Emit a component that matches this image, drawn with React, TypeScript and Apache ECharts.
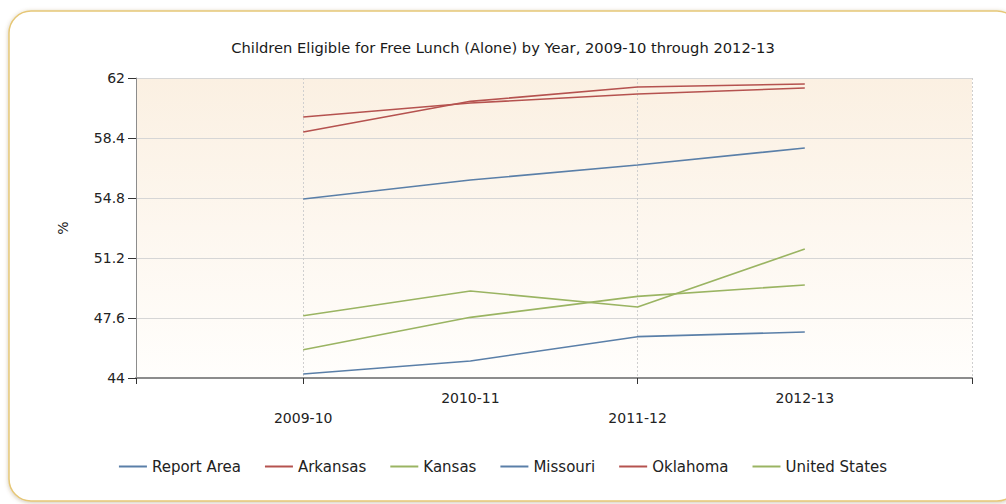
import React, { useEffect, useRef } from "react";
import * as echarts from "echarts";

const years = ["2009-10", "2010-11", "2011-12", "2012-13"];
const seriesNames = ["Report Area", "Arkansas", "Kansas", "Missouri", "Oklahoma", "United States"];
const reportArea = [44.24, 45.02, 46.48, 46.76];
const arkansas = [59.66, 60.5, 61.04, 61.4];
const kansas = [45.7, 47.64, 48.9, 49.58];
const missouri = [54.74, 55.88, 56.78, 57.8];
const oklahoma = [58.76, 60.6, 61.46, 61.64];
const unitedStates = [47.74, 49.22, 48.26, 51.74];
const yTicks = [44, 47.6, 51.2, 54.8, 58.4, 62];

const BLUE = "#5a7fa8";
const RED = "#b5524f";
const GREEN = "#9ab462";

export default function App() {
  const ref = useRef<HTMLDivElement>(null);
  useEffect(() => {
    document.body.style.margin = "0";
    const chart = echarts.init(ref.current!, null, { renderer: "svg" });
    const values = [reportArea, arkansas, kansas, missouri, oklahoma, unitedStates];
    const colors = [BLUE, RED, GREEN, BLUE, RED, GREEN];
    const font = "'DejaVu Sans', 'Liberation Sans', sans-serif";
    chart.setOption({
      animation: false,
      backgroundColor: "#ffffff",
      textStyle: { fontFamily: font },
      graphic: [
        {
          type: "rect",
          z: -10,
          shape: { x: 9, y: 11, width: 1010, height: 490, r: 22 },
          style: {
            fill: "#ffffff",
            stroke: "#e6c777",
            lineWidth: 1.5,
            shadowBlur: 4,
            shadowColor: "rgba(120,90,40,0.35)",
            shadowOffsetY: 1,
          },
        },
      ],
      title: {
        text: "Children Eligible for Free Lunch (Alone) by Year, 2009-10 through 2012-13",
        left: "center",
        top: 35,
        textStyle: { fontSize: 14.7, fontWeight: "normal", color: "#1a1a1a", fontFamily: font },
      },
      legend: {
        bottom: 25,
        left: "center",
        itemWidth: 28,
        itemHeight: 2,
        itemGap: 24,
        icon: "rect",
        textStyle: { fontSize: 15, color: "#222", fontFamily: font },
        data: seriesNames,
      },
      grid: {
        left: 136,
        right: 34,
        top: 78,
        bottom: 126,
        show: true,
        borderWidth: 0,
        backgroundColor: {
          type: "linear",
          x: 0, y: 0, x2: 0, y2: 1,
          colorStops: [
            { offset: 0, color: "#fbf0e2" },
            { offset: 1, color: "#fffefc" },
          ],
        },
      },
      xAxis: {
        type: "value",
        min: 0,
        max: 5,
        interval: 1,
        axisLine: { show: true, lineStyle: { color: "#8c8c8c", width: 2 } },
        axisTick: { show: true, customValues: [0, 1, 3, 5], length: 6, lineStyle: { color: "#333" } },
        axisLabel: {
          customValues: [1, 2, 3, 4],
          margin: 10,
          lineHeight: 20,
          fontSize: 14,
          color: "#222",
          fontFamily: font,
          formatter: (v: number) => {
            const i = Math.round(v) - 1;
            if (i < 0 || i >= years.length) return "";
            return i % 2 === 0 ? "\n" + years[i] : years[i];
          },
        },
        splitLine: { show: true, lineStyle: { color: "#cfcfcf", type: [2, 2] } },
      },
      yAxis: {
        type: "value",
        min: yTicks[0],
        max: yTicks[yTicks.length - 1],
        interval: 3.6,
        name: "%",
        nameLocation: "middle",
        nameGap: 66,
        nameRotate: 90,
        nameTextStyle: { fontSize: 14, color: "#222", fontFamily: font },
        axisLine: { show: true, lineStyle: { color: "#8c8c8c", width: 1 } },
        axisTick: { show: true, length: 8, lineStyle: { color: "#333" } },
        axisLabel: {
          fontSize: 14,
          color: "#222",
          margin: 11,
          fontFamily: font,
          formatter: (v: number) => String(Math.round(v * 10) / 10),
        },
        splitLine: { show: true, lineStyle: { color: "#d6d6d6", width: 1 } },
      },
      series: seriesNames.map((name, k) => ({
        name,
        type: "line",
        showSymbol: false,
        symbol: "none",
        color: colors[k],
        lineStyle: { color: colors[k], width: 1.6 },
        data: values[k].map((v, i) => [i + 1, v]),
      })),
    });
    return () => chart.dispose();
  }, []);
  return <div ref={ref} style={{ width: 1006, height: 504 }} />;
}
